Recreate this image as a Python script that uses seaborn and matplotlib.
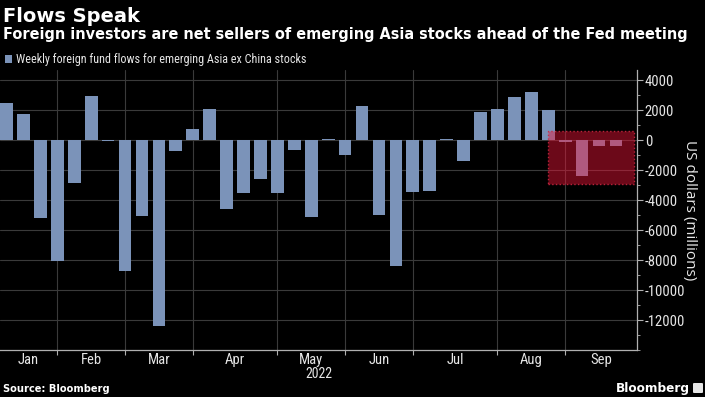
import matplotlib
matplotlib.use("Agg")
import matplotlib.pyplot as plt
import seaborn as sns
import pandas as pd
from matplotlib import font_manager as fm
from matplotlib.patches import Rectangle, FancyBboxPatch
from matplotlib.ticker import FixedLocator, FuncFormatter, MultipleLocator

# ---------------- data ----------------
flows = [2500, 1730, -5180, -8070, -2840, 2930, -50, -8730, -5040, -12420,
         -760, 710, 2070, -4620, -3560, -2600, -3560, -640, -5110, 50,
         -1020, 2240, -5000, -8420, -3440, -3400, 40, -1400, 1890, 2070,
         2840, 3180, 2000, -100, -2420, -420, -420]
weeks = list(range(len(flows)))
months = ["Jan", "Feb", "Mar", "Apr", "May", "Jun", "Jul", "Aug", "Sep"]
month_start_week = [3, 7, 11, 16, 20, 24, 29, 33]   # first week of Feb..Sep
y_ticks = [-12000, -10000, -8000, -6000, -4000, -2000, 0, 2000, 4000]
year_label = "2022"
series_label = "Weekly foreign fund flows for emerging Asia ex China stocks"

df = pd.DataFrame({"week": weeks, "flow": flows})

# ---------------- fonts ----------------
names = {f.name for f in fm.fontManager.ttflist}
def pick(*cands):
    for c in cands:
        if c in names:
            return c
    return "DejaVu Sans"
COND = pick("Liberation Sans Narrow", "DejaVu Sans Condensed", "Roboto Condensed", "Liberation Sans")
BOLD = "DejaVu Sans"
REG = pick("Open Sans", "Roboto", "DejaVu Sans")

sns.set_theme(style="dark")
plt.rcParams["font.family"] = [COND, "DejaVu Sans"]

BG = "#000000"
BLUE = "#7b93b9"
GRID = "#3a3a3a"
SPINE = "#b0b0b0"
TXT = "#e6e6e6"

W, H = 705, 397
fig = plt.figure(figsize=(W / 100, H / 100), dpi=100, facecolor=BG)
ax = fig.add_axes([0, (H - 350) / H, 637 / W, 280 / H], facecolor=BG)

sns.barplot(data=df, x="week", y="flow", color=BLUE, width=0.75,
            saturation=1, ax=ax, label=series_label, zorder=3,
            edgecolor="none", linewidth=0)

ax.set_xlim(-0.384, 37.24)
ax.set_ylim(-14000, 4667)

# y axis on the right
ax.yaxis.tick_right()
ax.yaxis.set_major_locator(FixedLocator(y_ticks))
ax.yaxis.set_minor_locator(MultipleLocator(1000))
ax.yaxis.set_major_formatter(FuncFormatter(lambda v, p: f"{int(v)}"))
ax.tick_params(axis="y", which="major", right=True, length=4, width=0.8,
               color=SPINE, labelcolor=TXT, labelsize=10.5, pad=1.5)
ax.tick_params(axis="y", which="minor", right=True, length=2, width=0.6, color=SPINE)
ax.set_ylabel("US dollars (millions)", rotation=270, va="center", ha="center",
              color=TXT, fontsize=11, family=REG)
ax.yaxis.set_label_position("right")
ax.yaxis.set_label_coords(697 / 637, 0.5)

# x axis: month boundaries as minor ticks, labels centred between them
lo, hi = ax.get_xlim()
edges = [lo] + month_start_week + [hi]
mids = [(edges[i] + edges[i + 1]) / 2 for i in range(len(months))]
ax.xaxis.set_major_locator(FixedLocator(mids))
ax.set_xticklabels(months)
ax.xaxis.set_minor_locator(FixedLocator(month_start_week))
ax.tick_params(axis="x", which="major", length=0, labelcolor=TXT, labelsize=10.5, pad=2.0)
ax.tick_params(axis="x", which="minor", bottom=True, length=3.5, width=0.8, color=SPINE)
ax.set_xlabel("")

ax.grid(False)
ax.grid(which="major", axis="y", color=GRID, lw=0.8, zorder=0)
ax.grid(which="minor", axis="x", color=GRID, lw=0.8, zorder=0)
ax.set_axisbelow(True)

for s in ["top", "left"]:
    ax.spines[s].set_visible(False)
for s in ["bottom", "right"]:
    ax.spines[s].set_visible(True)
    ax.spines[s].set_color(SPINE)
    ax.spines[s].set_linewidth(0.9)

# highlight box
ax.add_patch(Rectangle((32, -2950), 5.06, 3550,
                       facecolor=(0.95, 0.08, 0.22, 0.45),
                       edgecolor=(0.8, 0.15, 0.25, 0.9), lw=1.0, ls=":", zorder=6))

# legend
handles, labels = ax.get_legend_handles_labels()
if ax.get_legend() is not None:
    ax.get_legend().remove()
fig.legend(handles[:1], labels[:1], loc="center left",
           bbox_to_anchor=(5 / W, 1 - 60 / H), frameon=False,
           handlelength=0.6, handleheight=0.6, handletextpad=0.3,
           borderpad=0, borderaxespad=0, fontsize=8.7, labelcolor=TXT)

# texts
fig.text(3 / W, 1 - 22 / H, "Flows Speak", color="white", fontsize=14,
         fontweight="bold", family=BOLD, va="baseline", ha="left")
fig.text(3 / W, 1 - 39 / H,
         "Foreign investors are net sellers of emerging Asia stocks ahead of the Fed meeting",
         color="white", fontsize=10.45, fontweight="bold", family=BOLD,
         va="baseline", ha="left")
fig.text(318.5 / W, 1 - 374 / H, year_label, color=TXT, fontsize=10,
         ha="center", va="center")
fig.text(3 / W, 1 - 392 / H, "Source: Bloomberg", color="white", fontsize=7.1,
         fontweight="bold", family=BOLD, va="baseline", ha="left")
fig.text(690 / W, 1 - 392 / H, "Bloomberg", color="white", fontsize=8.7,
         fontweight="bold", family=BOLD, va="baseline", ha="right")
fig.patches.append(FancyBboxPatch((693 / W, 1 - 393 / H), 10 / W, 10 / H,
                                  boxstyle="round,pad=0,rounding_size=0.002",
                                  transform=fig.transFigure, facecolor="#e6e6e6",
                                  edgecolor="none"))

fig.savefig("out.png", dpi=100, facecolor=BG)
